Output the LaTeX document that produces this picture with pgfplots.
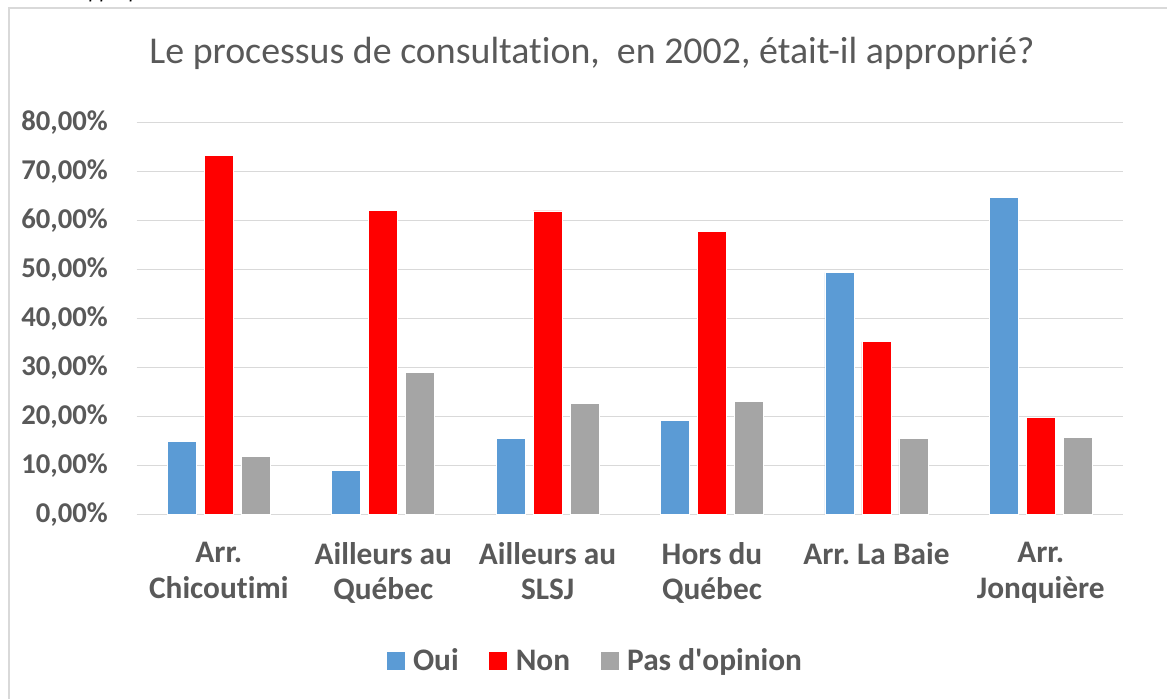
\documentclass[border=0pt]{standalone}
\usepackage{pgfplots}
\pgfplotsset{compat=1.18}
\usepackage{fontspec}
\setmainfont{Carlito}[Ligatures={NoCommon,NoRare}, Contextuals={NoAlternate}]
\frenchspacing
\definecolor{txt}{HTML}{595959}
\definecolor{gridc}{HTML}{D9D9D9}
\definecolor{oui}{HTML}{5B9BD5}
\definecolor{non}{HTML}{FF0000}
\definecolor{pas}{HTML}{A5A5A5}
\newcommand{\apos}{{\addfontfeatures{Ligatures=TeXOff}'}}
\begin{document}
\begin{tikzpicture}
% page: 1167x698 px at 0.75pt/px, axis origin at (136.7px, 514.3px)
\useasboundingbox (-102.5pt,-137.8pt) rectangle (772.7pt,385.7pt);
\draw[gridc, line width=1.1pt] (-95.8pt,-140pt) -- (-95.8pt,379.7pt) -- (775pt,379.7pt);
\node[anchor=base west, font=\fontsize{16}{19}\selectfont\itshape, text=black, inner sep=0pt]
  at (-44pt,386.5pt) {approprié};
\begin{axis}[
  scale only axis,
  width=739.7pt, height=294pt,
  ybar=6pt, bar width=21.75pt,
  xmin=-0.5, xmax=5.5,
  ymin=0, ymax=80,
  xtick={0,1,2,3,4,5},
  xticklabels={{Arr.\\Chicoutimi},{Ailleurs au\\Québec},{Ailleurs au\\SLSJ},{Hors du\\Québec},{Arr. La Baie},{Arr.\\Jonquière}},
  ytick={0,10,20,30,40,50,60,70,80},
  yticklabels={0{,}00\%,10{,}00\%,20{,}00\%,30{,}00\%,40{,}00\%,50{,}00\%,60{,}00\%,70{,}00\%,80{,}00\%},
  axis line style={draw=none},
  tick style={draw=none},
  major tick length=0pt,
  xmajorgrids=false,
  ymajorgrids=true, grid style={draw=gridc, line width=1.1pt},
  xticklabel style={align=center, anchor=north, inner sep=0pt, yshift=-21pt,
    font=\fontsize{23.5}{26.5}\selectfont\bfseries, text=txt},
  yticklabel style={anchor=east, inner sep=0pt, xshift=-21.5pt,
    font=\fontsize{21.5}{25}\selectfont\bfseries, text=txt},
  legend columns=3,
  legend style={draw=none, fill=none, at={(0.466,-0.374)}, anchor=center,
    font=\fontsize{23.5}{27}\selectfont\bfseries, text=txt,
    /tikz/every even column/.append style={column sep=20pt},
    nodes={inner xsep=3pt}},
  legend image code/.code={\fill[#1, draw=none] (0pt,-6.75pt) rectangle (13.5pt,6.75pt);
    \path (16.5pt,0pt);},
]
\addplot[fill=oui, draw=white, line width=0.6pt] coordinates {(0,14.8) (1,9.0) (2,15.4) (3,19.2) (4,49.3) (5,64.7)};
\addplot[fill=non, draw=white, line width=0.6pt] coordinates {(0,73.2) (1,62.0) (2,61.9) (3,57.7) (4,35.2) (5,19.7)};
\addplot[fill=pas, draw=white, line width=0.6pt] coordinates {(0,11.8) (1,29.0) (2,22.6) (3,23.1) (4,15.4) (5,15.6)};
\legend{Oui, Non, Pas d\apos opinion}
\end{axis}
\node[anchor=base, font=\fontsize{28.4}{33}\selectfont, text=txt, inner sep=0pt]
  at (341.5pt,337.7pt) {Le processus de consultation,\ \ en 2002, était-il approprié?};
\end{tikzpicture}
\end{document}
